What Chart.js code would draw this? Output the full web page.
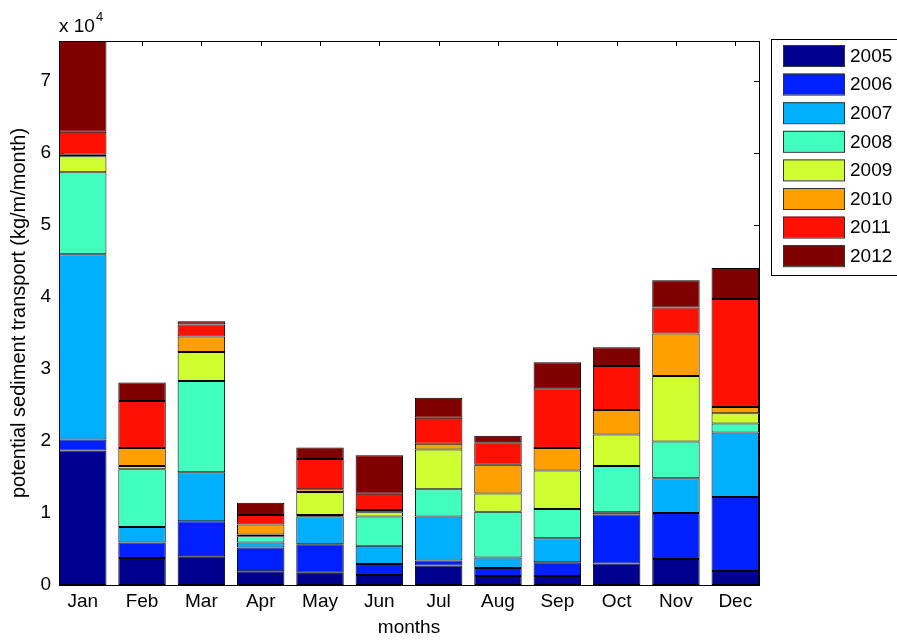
<!DOCTYPE html>
<html>
<head>
<meta charset="utf-8">
<script src="https://cdn.jsdelivr.net/npm/chart.js@4"></script>
<style>
  html, body { margin: 0; padding: 0; background: #fff; }
</style>
</head>
<body>
<canvas id="chart" width="897" height="641"></canvas>
<script>
const months = ["Jan", "Feb", "Mar", "Apr", "May", "Jun", "Jul", "Aug", "Sep", "Oct", "Nov", "Dec"];
const years = ["2005", "2006", "2007", "2008", "2009", "2010", "2011", "2012"];
const yTicks = [0, 10000, 20000, 30000, 40000, 50000, 60000, 70000];

// monthly transport per year (kg/m/month), stacked
const y2005 = [18650, 3750, 4000, 1900, 1700, 1400, 2700, 1250, 1250, 3000, 3600, 1950];
const y2006 = [1550, 2150, 4850, 3300, 3950, 1500, 700, 1100, 1900, 6800, 6400, 10250];
const y2007 = [25700, 2150, 6800, 700, 3900, 2550, 6100, 1450, 3350, 300, 4800, 8950];
const y2008 = [11400, 8000, 12650, 850, 150, 4050, 3800, 6350, 4050, 6400, 5100, 1250];
const y2009 = [2200, 450, 4050, 250, 3200, 600, 5500, 2550, 5350, 4400, 9100, 1450];
const y2010 = [200, 2500, 2150, 1400, 400, 300, 800, 4000, 3100, 3400, 5900, 850];
const y2011 = [3200, 6550, 1650, 1300, 4200, 2250, 3600, 3100, 8300, 6100, 3600, 15000];
const y2012 = [12600, 2550, 450, 1700, 1600, 5350, 2800, 900, 3600, 2600, 3800, 4300];

const series = [y2005, y2006, y2007, y2008, y2009, y2010, y2011, y2012];
const colors = ["#00008f", "#0020ff", "#00afff", "#40ffbf", "#cfff30", "#ff9f00", "#ff1000", "#800000"];

const FONT = "'Liberation Sans', Arial, sans-serif";

// matlab-style box with inward ticks, drawn under the bars
const axesBox = {
  id: "axesBox",
  beforeDatasetsDraw(chart) {
    const { ctx, chartArea: a, scales } = chart;
    ctx.save();
    ctx.strokeStyle = "#000";
    ctx.lineWidth = 1;
    ctx.beginPath();
    scales.x.ticks.forEach((t) => {
      const px = Math.round(scales.x.getPixelForValue(t.value)) + 0.5;
      ctx.moveTo(px, a.top); ctx.lineTo(px, a.top + 5);
      ctx.moveTo(px, a.bottom); ctx.lineTo(px, a.bottom - 5);
    });
    scales.y.ticks.forEach((t) => {
      const py = Math.round(scales.y.getPixelForValue(t.value)) + 0.5;
      ctx.moveTo(a.left, py); ctx.lineTo(a.left + 5, py);
      ctx.moveTo(a.right, py); ctx.lineTo(a.right - 5, py);
    });
    ctx.stroke();
    ctx.strokeRect(Math.round(a.left) + 0.5, Math.round(a.top) + 0.5,
      Math.round(a.right - a.left), Math.round(a.bottom - a.top));
    ctx.restore();
  },
  afterDraw(chart) {
    const { ctx, chartArea: a } = chart;
    ctx.save();
    ctx.fillStyle = "#000";
    ctx.textBaseline = "alphabetic";
    ctx.font = "19px " + FONT;
    ctx.fillText("x 10", a.left, a.top - 9);
    const w = ctx.measureText("x 10").width;
    ctx.font = "13px " + FONT;
    ctx.fillText("4", a.left + w + 1, a.top - 20);

    // legend box
    const lx = 771, ly = 39;
    ctx.strokeStyle = "#000";
    ctx.lineWidth = 1;
    ctx.strokeRect(lx + 0.5, ly + 0.5, 140, 236);
    ctx.font = "19px " + FONT;
    ctx.textBaseline = "middle";
    chart.data.datasets.forEach((ds, i) => {
      const top = ly + 6 + i * 28.6;
      ctx.fillStyle = ds.backgroundColor;
      ctx.fillRect(lx + 12, top, 61, 21);
      ctx.strokeStyle = "#333";
      ctx.strokeRect(lx + 12.5, top + 0.5, 61, 21);
      ctx.fillStyle = "#000";
      ctx.fillText(ds.label, lx + 79, top + 11.5);
    });
    ctx.restore();
  }
};

new Chart(document.getElementById("chart"), {
  type: "bar",
  data: {
    datasets: series.map((vals, i) => ({
      label: years[i],
      data: vals.map((v, j) => ({ x: j + 1, y: v })),
      backgroundColor: colors[i],
      borderColor: "#000",
      borderWidth: 1,
      borderSkipped: false,
      barPercentage: 0.8,
      categoryPercentage: 1.0,
    })),
  },
  options: {
    responsive: false,
    animation: false,
    layout: { padding: { top: 41, right: 138, left: 0, bottom: 0 } },
    plugins: {
      legend: { display: false },
      tooltip: { enabled: false },
    },
    scales: {
      x: {
        type: "linear",
        stacked: true,
        offset: false,
        min: 0.6,
        max: 12.4,
        grid: { display: false, drawTicks: false, offset: false },
        border: { display: false },
        afterBuildTicks: (scale) => {
          scale.ticks = months.map((m, i) => ({ value: i + 1 }));
        },
        afterFit: (scale) => { scale.height = 56; },
        ticks: {
          color: "#000",
          padding: 5,
          font: { family: FONT, size: 19 },
          callback: (v) => months[v - 1],
        },
        title: {
          display: true,
          text: "months",
          color: "#000",
          padding: { top: 0, bottom: 2 },
          font: { family: FONT, size: 19 },
        },
      },
      y: {
        stacked: true,
        min: 0,
        max: 75500,
        grid: { display: false, drawTicks: false },
        border: { display: false },
        afterBuildTicks: (scale) => {
          scale.ticks = yTicks.map((v) => ({ value: v }));
        },
        afterFit: (scale) => { scale.width = 59; },
        ticks: {
          color: "#000",
          padding: 8,
          font: { family: FONT, size: 19 },
          callback: (v) => v / 10000,
        },
        title: {
          display: true,
          text: "potential sediment transport (kg/m/month)",
          color: "#000",
          padding: { top: 7, bottom: 0 },
          font: { family: FONT, size: 20 },
        },
      },
    },
  },
  plugins: [axesBox],
});
</script>
</body>
</html>
